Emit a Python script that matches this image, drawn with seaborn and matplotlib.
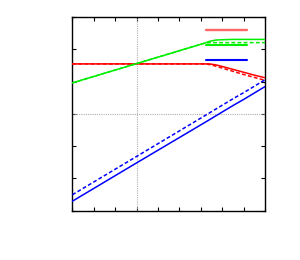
import matplotlib
matplotlib.use("Agg")
import pandas as pd
import seaborn as sns
import matplotlib.pyplot as plt
from matplotlib.lines import Line2D

# values
x = [0, 3, 6.2, 6.4, 6.7, 7, 7.5, 8, 8.5, 9]
red_solid = [4.55, 4.55, 4.55, 4.55, 4.52, 4.47, 4.38, 4.29, 4.20, 4.12]
red_dashed = [4.55, 4.55, 4.55, 4.53, 4.48, 4.42, 4.32, 4.22, 4.13, 4.04]
green_solid = [3.96, 4.56, 5.20, 5.25, 5.29, 5.30, 5.31, 5.31, 5.31, 5.31]
green_dashed = [3.96, 4.56, 5.20, 5.21, 5.21, 5.21, 5.21, 5.21, 5.21, 5.21]
blue_solid = [0.29, 1.48, 2.74, 2.82, 2.94, 3.06, 3.26, 3.45, 3.65, 3.85]
blue_dashed = [0.49, 1.68, 2.95, 3.03, 3.15, 3.27, 3.47, 3.66, 3.86, 4.06]

x_ticks = list(range(0, 10))
y_ticks = list(range(0, 7))

sns.set_style("white")
fig = plt.figure(figsize=(3, 2.6), dpi=100)
ax = fig.add_axes([0.241, 0.19, 0.643, 0.744])

series = [
    (red_solid, "#ff0000", "-"),
    (red_dashed, "#ff0000", (0, (2.5, 1.5))),
    (green_solid, "#00ee00", "-"),
    (green_dashed, "#00ee00", (0, (2.5, 1.5))),
    (blue_solid, "#0000ff", "-"),
    (blue_dashed, "#0000ff", (0, (2.5, 1.5))),
]
for ys, col, ls in series:
    df = pd.DataFrame({"x": x, "y": ys})
    sns.lineplot(data=df, x="x", y="y", ax=ax, color=col, linestyle=ls,
                 linewidth=1.1, sort=False, zorder=3)

ax.axvline(3, color="#b0b0b0", linestyle=(0, (1, 1)), linewidth=0.8, zorder=1)
ax.axhline(3, color="#b0b0b0", linestyle=(0, (1, 1)), linewidth=0.8, zorder=1)

ax.set_xlim(0, 9)
ax.set_ylim(0, 6)
ax.set_xticks(x_ticks)
ax.set_yticks(y_ticks)
ax.set_xticklabels([])
ax.set_yticklabels([])
ax.set_xlabel("")
ax.set_ylabel("")
ax.tick_params(direction="in", length=3, width=0.8, color="black",
               top=True, right=True, bottom=True, left=True)
for sp in ax.spines.values():
    sp.set_color("black")
    sp.set_linewidth(1.0)

handles = [Line2D([], [], color="#ff6666", lw=1.7),
           Line2D([], [], color="#00ee00", lw=1.5),
           Line2D([], [], color="#0000ff", lw=1.5)]
ax.legend(handles, [" ", " ", " "], loc="upper right",
          bbox_to_anchor=(0.925, 0.956), frameon=False, fontsize=8,
          handlelength=3.7, handletextpad=0, borderpad=0,
          borderaxespad=0, labelspacing=0.47)

fig.savefig("out.png", dpi=100)
